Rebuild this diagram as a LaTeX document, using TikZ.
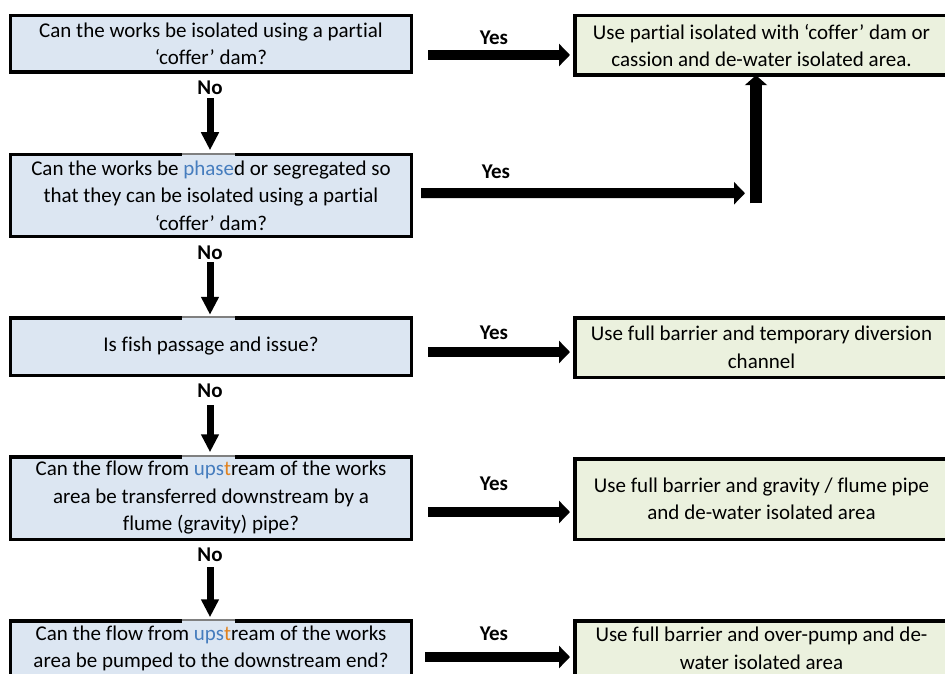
\documentclass[tikz,border=0pt]{standalone}
\usepackage{fontspec}
\setmainfont{Carlito}[RawFeature={-liga;-clig;-dlig;-calt}]
\usetikzlibrary{arrows.meta,calc}
\definecolor{qfill}{RGB}{220,230,242}
\definecolor{afill}{RGB}{235,241,222}
\definecolor{tcblue}{RGB}{70,125,190}
\definecolor{tcorange}{RGB}{225,130,30}
\begin{document}
\begin{tikzpicture}[x=1pt,y=-1pt,
  box/.style={draw=black,line width=3.5pt,inner sep=0pt,outer sep=0pt,align=center,
    font=\fontsize{21}{27.5}\selectfont},
  qbox/.style={box,fill=qfill,minimum width=401pt},
  abox/.style={box,fill=afill,minimum width=373pt},
  lbl/.style={font=\fontsize{21}{24}\selectfont\bfseries,inner sep=0pt},
  yesarrow/.style={line width=10pt,-{Triangle[length=11pt,width=22pt]}},
  uparrow/.style={line width=12pt,-{Triangle[length=10pt,width=22pt]}},
  noarrow/.style={line width=7pt,-{Triangle[length=18pt,width=17pt]}},
  gapwhite/.style={fill=white},
  gapfill/.style={fill=qfill},
  gapline/.style={draw=gray,line width=1.4pt}
]
\useasboundingbox (0,0) rectangle (945,674);

% question boxes
\node[qbox,minimum height=56.5pt] (q1) at (211,44)
  {Can the works be isolated using a partial\\‘coffer’ dam?};
\node[qbox,minimum height=81.5pt] (q2) at (211,195.5)
  {Can the works be \textcolor{tcblue}{phase}d or segregated so\\that they can be isolated using a partial\\‘coffer’ dam?};
\node[qbox,minimum height=57.5pt] (q3) at (211,346.5)
  {Is fish passage and issue?};
\node[qbox,minimum height=82.5pt] (q4) at (211,498)
  {Can the flow from \textcolor{tcblue}{ups}\textcolor{tcorange}{t}ream of the works\\area be transferred downstream by a\\flume (gravity) pipe?};
\node[qbox,minimum height=55.5pt] (q5) at (211,648.5)
  {Can the flow from \textcolor{tcblue}{ups}\textcolor{tcorange}{t}ream of the works\\area be pumped to the downstream end?};

% answer boxes
\node[abox,minimum height=59.5pt] (r1) at (761.5,45.5)
  {Use partial isolated with ‘coffer’ dam or\\cassion and de-water isolated area.};
\node[abox,minimum height=59.5pt] (r2) at (761.5,347.5)
  {Use full barrier and temporary diversion\\channel};
\node[abox,minimum height=80.5pt] (r3) at (761.5,499)
  {Use full barrier and gravity / flume pipe\\and de-water isolated area};
\node[abox,minimum height=55.5pt] (r4) at (761.5,648.5)
  {Use full barrier and over-pump and de-\\water isolated area};

% gray artefact bars on top borders
\foreach \n in {q2,q3,q4,q5}{
  \fill[gapwhite] ($(\n.north)+(-29,-1.9)$) rectangle ($(\n.north)+(24,-0.5)$);
  \fill[gapfill] ($(\n.north)+(-29,-0.5)$) rectangle ($(\n.north)+(24,1.8)$);
  \draw[gapline] ($(\n.north)+(-29,-0.9)$) -- ($(\n.north)+(24,-0.9)$);
}

% Yes labels
\node[lbl] (y1) at (494,38) {Yes};
\node[lbl] (y2) at (496,172) {Yes};
\node[lbl] (y3) at (494,333) {Yes};
\node[lbl] (y4) at (494,484) {Yes};
\node[lbl] (y5) at (494,634) {Yes};

% No labels
\node[lbl] (n1) at (210,88) {No};
\node[lbl] (n2) at (210,253) {No};
\node[lbl] (n3) at (210,391) {No};
\node[lbl] (n4) at (210,555) {No};

% Yes arrows
\draw[yesarrow] ($(q1.east)+(16.5,11)$) -- ($(r1.west)+(-5,9.5)$);
\coordinate (j) at ($(r1.south)+(-5.5,128)$);
\draw[yesarrow] ($(q2.east)+(9.5,-2.5)$) -- ($(j)+(-11,-10)$);
\draw[uparrow] (j) -- (j |- r1.south);
\draw[yesarrow] ($(q3.east)+(16.5,5.5)$) -- ($(r2.west)+(-5,4.5)$);
\draw[yesarrow] ($(q4.east)+(16.5,14)$) -- ($(r3.west)+(-5,13)$);
\draw[yesarrow] ($(q5.east)+(13.5,8.5)$) -- ($(r4.west)+(-5,8.5)$);

% No arrows
\draw[noarrow] ($(q1.south)+(-1,26)$) -- ($(q2.north)+(-1,-4.5)$);
\draw[noarrow] ($(q2.south)+(-1,26)$) -- ($(q3.north)+(-1,-3)$);
\draw[noarrow] ($(q3.south)+(-1,30)$) -- ($(q4.north)+(-1,-4.5)$);
\draw[noarrow] ($(q4.south)+(-1,28)$) -- ($(q5.north)+(-1,-3.5)$);
\end{tikzpicture}
\end{document}
